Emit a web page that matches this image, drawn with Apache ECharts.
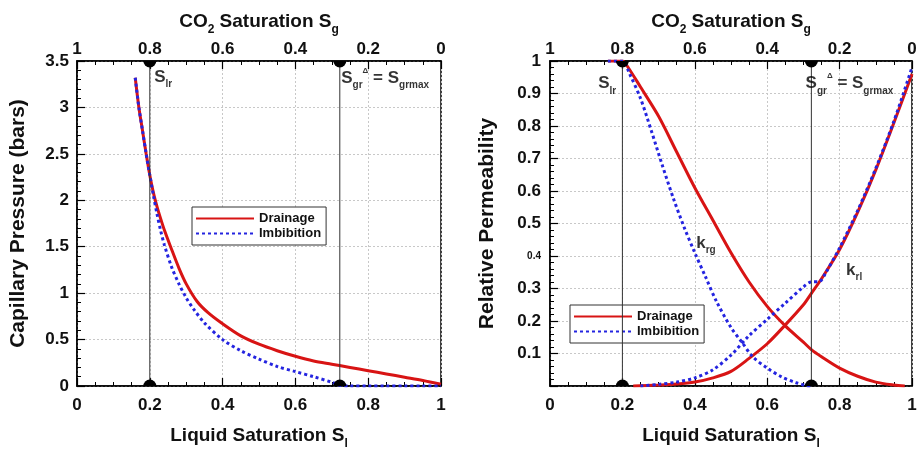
<!DOCTYPE html>
<html>
<head>
<meta charset="utf-8">
<script src="https://cdn.jsdelivr.net/npm/echarts@6.0.0/dist/echarts.min.js"></script>
<style>
html,body{margin:0;padding:0;background:#fff;}
#main{width:920px;height:455px;}
</style>
</head>
<body>
<div id="main"></div>
<script>
// ---------- data ----------
// Left panel: capillary pressure (bars) vs liquid saturation
const pcDrainSl = [0.16,0.17,0.18,0.19,0.20,0.21,0.22,0.23,0.24,0.26,0.28,0.30,0.33,0.36,0.40,0.45,0.50,0.55,0.60,0.65,0.70,0.75,0.80,0.85,0.90,0.95,1.00];
const pcDrain   = [3.32,3.00,2.75,2.50,2.27,2.08,1.93,1.80,1.68,1.47,1.27,1.10,0.91,0.79,0.67,0.54,0.45,0.38,0.32,0.27,0.235,0.20,0.165,0.13,0.095,0.06,0.02];
const pcImbSl   = [0.16,0.17,0.18,0.19,0.20,0.21,0.22,0.23,0.24,0.26,0.28,0.30,0.32,0.35,0.40,0.45,0.50,0.55,0.60,0.65,0.70,0.72,0.75,0.80,0.85,0.90,0.95,1.00];
const pcImb     = [3.32,3.00,2.75,2.50,2.27,2.05,1.85,1.67,1.52,1.28,1.10,0.95,0.83,0.68,0.50,0.38,0.29,0.21,0.155,0.10,0.04,0.01,0,0,0,0,0,0];

// Right panel: relative permeability
const krgDrainSl = [0.16,0.20,0.21,0.25,0.30,0.35,0.40,0.45,0.50,0.55,0.60,0.65,0.70,0.722,0.75,0.80,0.85,0.90,0.95,0.98];
const krgDrain   = [1.0,1.0,0.99,0.92,0.83,0.72,0.61,0.51,0.41,0.32,0.245,0.185,0.135,0.112,0.09,0.055,0.03,0.012,0.003,0];
const krgImbSl   = [0.16,0.20,0.22,0.25,0.28,0.31,0.34,0.37,0.40,0.43,0.46,0.50,0.53,0.56,0.60,0.64,0.68,0.71,0.72];
const krgImb     = [1.0,1.0,0.96,0.885,0.785,0.68,0.58,0.49,0.41,0.335,0.26,0.18,0.135,0.09,0.055,0.028,0.01,0.001,0];
const krlDrainSl = [0.23,0.30,0.35,0.40,0.45,0.50,0.55,0.60,0.65,0.70,0.722,0.75,0.80,0.85,0.90,0.95,1.00];
const krlDrain   = [0,0.003,0.006,0.012,0.025,0.045,0.085,0.13,0.188,0.25,0.285,0.33,0.42,0.535,0.665,0.81,0.96];
const krlImbSl   = [0.25,0.30,0.35,0.40,0.45,0.50,0.55,0.60,0.65,0.70,0.72,0.745,0.76,0.80,0.85,0.90,0.95,1.00];
const krlImb     = [0,0.005,0.012,0.025,0.05,0.095,0.155,0.205,0.255,0.305,0.32,0.322,0.345,0.425,0.54,0.67,0.815,0.98];

// reference saturations (vertical lines)
const sLr = 0.2;
const sGrMax = 0.722;
const pcMax = 3.5;
const krMax = 1.0;

// annotation anchors (data coordinates)
const annLeftSlr  = [0.212, 3.32];
const annLeftSgr  = [0.726, 3.31];
const annRightSlr = [0.133, 0.93];
const annRightSgr = [0.706, 0.93];
const annKrg      = [0.404, 0.44];
const annKrl      = [0.818, 0.355];

// ---------- helpers ----------
const FONT = 'Liberation Sans, Arial, Helvetica, sans-serif';
const RED = '#d81414';
const BLUE = '#2424e0';
const zip = (xs, ys) => xs.map((x, i) => [x, ys[i]]);

const richBase = {
  b:   {fontFamily: FONT, fontWeight: 'bold', fontSize: 17, lineHeight: 24, color: '#000'},
  s:   {fontFamily: FONT, fontWeight: 'bold', fontSize: 10, lineHeight: 14, verticalAlign: 'bottom', color: '#000'},
  sup: {fontFamily: FONT, fontWeight: 'bold', fontSize: 8, lineHeight: 8, verticalAlign: 'top', color: '#000'}
};
const nameRich = {
  b: {fontFamily: FONT, fontWeight: 'bold', fontSize: 19, lineHeight: 28, color: '#111'},
  s: {fontFamily: FONT, fontWeight: 'bold', fontSize: 12, lineHeight: 18, verticalAlign: 'bottom', color: '#111'}
};

function vline(x, ymax, xi, yi) {
  return {
    type: 'line', xAxisIndex: xi, yAxisIndex: yi, silent: true, z: 4,
    symbol: 'none', showSymbol: false,
    lineStyle: {color: '#333', width: 1},
    data: [[x, 0], [x, ymax]]
  };
}
// half-disc markers: third value 1 = hanging below the point, -1 = dome above it
function markers(pts, xi, yi) {
  return {
    type: 'custom', xAxisIndex: xi, yAxisIndex: yi, silent: true, clip: false, z: 5,
    data: pts,
    renderItem: function (params, api) {
      const c = api.coord([api.value(0), api.value(1)]);
      const down = api.value(2) > 0;
      return {
        type: 'sector',
        shape: {cx: c[0], cy: c[1], r0: 0, r: 6.5,
          startAngle: down ? 0 : Math.PI, endAngle: down ? Math.PI : 2 * Math.PI},
        style: {fill: '#000'}
      };
    }
  };
}
function ann(pt, text, xi, yi) {
  return {
    type: 'scatter', xAxisIndex: xi, yAxisIndex: yi, silent: true, z: 6,
    symbolSize: 0, itemStyle: {color: '#000'},
    data: [pt],
    label: {show: true, position: 'right', distance: 0, formatter: text,
      color: '#000', fontFamily: FONT, fontWeight: 'bold', fontSize: 17, rich: richBase}
  };
}
function curve(name, data, xi, yi, dotted) {
  return {
    type: 'line', name: name, xAxisIndex: xi, yAxisIndex: yi, data: data,
    showSymbol: false, symbol: 'none', smooth: 0.3, z: dotted ? 3 : 2,
    lineStyle: dotted ? {color: BLUE, width: 3, type: [3, 3]} : {color: RED, width: 3},
    itemStyle: {color: dotted ? BLUE : RED}
  };
}

function bottomX(gi) {
  return {
    type: 'value', gridIndex: gi, position: 'bottom', min: 0, max: 1, interval: 0.2,
    name: '{b|Liquid Saturation S}{s|l}', nameLocation: 'middle', nameGap: 36,
    nameTextStyle: {rich: nameRich},
    axisLine: {show: true, onZero: false, lineStyle: {color: '#000', width: 1.5}},
    axisTick: {show: true, inside: true, length: 8, lineStyle: {color: '#000', width: 1.2}},
    minorTick: {show: true, splitNumber: 4, length: 4, lineStyle: {color: '#000', width: 1}},
    axisLabel: {margin: 11, color: '#111', fontFamily: FONT, fontWeight: 'bold', fontSize: 17},
    splitLine: {show: true, lineStyle: {color: '#c8c8c8', type: [2, 2], width: 1}}
  };
}
function topX(gi) {
  return {
    type: 'value', gridIndex: gi, position: 'top', min: 0, max: 1, interval: 0.2, inverse: true,
    name: '{b|CO}{s|2}{b| Saturation S}{s|g}', nameLocation: 'middle', nameGap: 25,
    nameTextStyle: {rich: nameRich},
    axisLine: {show: true, onZero: false, lineStyle: {color: '#000', width: 1.5}},
    axisTick: {show: true, inside: true, length: 8, lineStyle: {color: '#000', width: 1.2}},
    minorTick: {show: true, splitNumber: 4, length: 4, lineStyle: {color: '#000', width: 1}},
    axisLabel: {margin: 3, color: '#111', fontFamily: FONT, fontWeight: 'bold', fontSize: 17},
    splitLine: {show: false}
  };
}
function legendAt(left, top) {
  return {
    data: ['Drainage', 'Imbibition'], orient: 'vertical', left: left, top: top,
    backgroundColor: '#fff', borderColor: '#333', borderWidth: 1, padding: [5, 5, 5, 3],
    itemWidth: 58, itemHeight: 14, itemGap: 2, selectedMode: false,
    itemStyle: {opacity: 0},
    textStyle: {fontFamily: FONT, fontWeight: 'bold', fontSize: 13, color: '#111'}
  };
}

const option = {
  animation: false,
  backgroundColor: '#fff',
  grid: [
    {left: 77, top: 61, width: 364, height: 331, show: true, borderColor: '#000', borderWidth: 1.5, backgroundColor: 'transparent'},
    {left: 550, top: 61, width: 362, height: 331, show: true, borderColor: '#000', borderWidth: 1.5, backgroundColor: 'transparent'}
  ],
  xAxis: [bottomX(0), topX(0), bottomX(1), topX(1)],
  yAxis: [
    {
      type: 'value', gridIndex: 0, min: 0, max: pcMax, interval: 0.5,
      name: 'Capillary Pressure (bars)', nameLocation: 'middle', nameGap: 48,
      nameTextStyle: {fontFamily: FONT, fontWeight: 'bold', fontSize: 21, color: '#111'},
      axisLine: {show: true, lineStyle: {color: '#000', width: 1.5}},
      axisTick: {show: true, inside: true, length: 8, lineStyle: {color: '#000', width: 1.2}},
      minorTick: {show: true, splitNumber: 5, length: 4, lineStyle: {color: '#000', width: 1}},
      axisLabel: {margin: 8, color: '#111', fontFamily: FONT, fontWeight: 'bold', fontSize: 17},
      splitLine: {show: true, lineStyle: {color: '#c8c8c8', type: [2, 2], width: 1}}
    },
    {
      type: 'value', gridIndex: 1, min: 0, max: krMax, interval: 0.1,
      name: 'Relative Permeability', nameLocation: 'middle', nameGap: 52,
      nameTextStyle: {fontFamily: FONT, fontWeight: 'bold', fontSize: 21, color: '#111'},
      axisLine: {show: true, lineStyle: {color: '#000', width: 1.5}},
      axisTick: {show: true, inside: true, length: 8, lineStyle: {color: '#000', width: 1.2}},
      minorTick: {show: true, splitNumber: 5, length: 4, lineStyle: {color: '#000', width: 1}},
      axisLabel: {
        margin: 9, color: '#111', fontFamily: FONT, fontWeight: 'bold', fontSize: 17,
        formatter: function (v) {
          const r = Math.round(v * 100) / 100;
          if (r === 0) return '';
          if (Math.abs(r - 0.4) < 1e-9) return '{sm|0.4}';
          return String(r);
        },
        rich: {sm: {fontFamily: FONT, fontWeight: 'bold', fontSize: 10, color: '#111'}}
      },
      splitLine: {show: true, lineStyle: {color: '#c8c8c8', type: [2, 2], width: 1}}
    }
  ],
  legend: [legendAt(192, 207), legendAt(570, 305)],
  series: [
    vline(sLr, pcMax, 0, 0),
    vline(sGrMax, pcMax, 0, 0),
    vline(sLr, krMax, 2, 1),
    vline(sGrMax, krMax, 2, 1),
    markers([[sLr, 0, -1], [sGrMax, 0, -1], [sLr, pcMax, 1], [sGrMax, pcMax, 1]], 0, 0),
    markers([[sLr, 0, -1], [sGrMax, 0, -1], [sLr, krMax, 1], [sGrMax, krMax, 1]], 2, 1),
    curve('Drainage', zip(pcDrainSl, pcDrain), 0, 0, false),
    curve('Imbibition', zip(pcImbSl, pcImb), 0, 0, true),
    curve('Drainage', zip(krgDrainSl, krgDrain), 2, 1, false),
    curve('Drainage', zip(krlDrainSl, krlDrain), 2, 1, false),
    curve('Imbibition', zip(krgImbSl, krgImb), 2, 1, true),
    curve('Imbibition', zip(krlImbSl, krlImb), 2, 1, true),
    ann(annLeftSlr, '{b|S}{s|lr}', 0, 0),
    ann(annLeftSgr, '{b|S}{s|gr}{sup|Δ}{b| = S}{s|grmax}', 0, 0),
    ann(annRightSlr, '{b|S}{s|lr}', 2, 1),
    ann(annRightSgr, '{b|S}{s|gr}{sup|Δ}{b| = S}{s|grmax}', 2, 1),
    ann(annKrg, '{b|k}{s|rg}', 2, 1),
    ann(annKrl, '{b|k}{s|rl}', 2, 1)
  ]
};

const chart = echarts.init(document.getElementById('main'), null, {renderer: 'canvas'});
chart.setOption(option);
</script>
</body>
</html>
